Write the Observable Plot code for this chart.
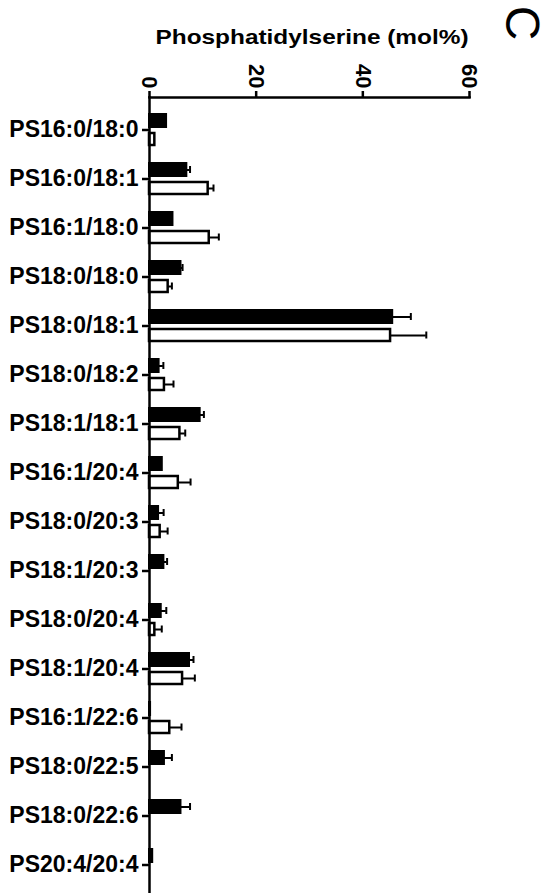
<!DOCTYPE html>
<html><head><meta charset="utf-8">
<script src="https://cdn.jsdelivr.net/npm/d3@7"></script>
<script src="https://cdn.jsdelivr.net/npm/@observablehq/plot@0.6"></script>
<style>body{margin:0;background:#fff}</style>
</head><body><div id="chart"></div>
<script>
const categories = ["PS16:0/18:0","PS16:0/18:1","PS16:1/18:0","PS18:0/18:0","PS18:0/18:1","PS18:0/18:2","PS18:1/18:1","PS16:1/20:4","PS18:0/20:3","PS18:1/20:3","PS18:0/20:4","PS18:1/20:4","PS16:1/22:6","PS18:0/22:5","PS18:0/22:6","PS20:4/20:4"];
const filledValues = [3.2, 7.0, 4.4, 5.9, 45.6, 1.8, 9.5, 2.4, 1.7, 2.7, 2.2, 7.5, 0.2, 2.8, 5.9, 0.6];
const filledErrors = [0, 0.6, 0, 0.3, 3.4, 0.8, 0.7, 0, 0.95, 0.6, 0.95, 0.75, 0, 1.4, 1.7, 0];
const openValues = [1.0, 11.0, 11.2, 3.5, 45.2, 2.8, 5.7, 5.4, 2.0, null, 1.0, 6.2, 3.8, null, null, null];
const openErrors = [0, 1.0, 1.8, 0.7, 6.7, 1.7, 1.0, 2.3, 1.4, 0, 1.3, 2.3, 2.2, 0, 0, 0];
const xTicks = [0, 20, 40, 60];
const title = "Phosphatidylserine (mol%)";
const panelLabel = "C";

const filled = categories.map((c, i) => ({cat: c, v: filledValues[i], e: filledErrors[i]})).filter(d => d.v != null);
const open = categories.map((c, i) => ({cat: c, v: openValues[i], e: openErrors[i]})).filter(d => d.v != null);
const filledErr = filled.filter(d => d.e > 0);
const openErr = open.filter(d => d.e > 0);

const font = "'Liberation Sans', Arial, Helvetica, sans-serif";
const plot = Plot.plot({
  width: 555, height: 893,
  marginTop: 97, marginLeft: 149, marginRight: 86, marginBottom: 0,
  style: {fontFamily: font, fontWeight: "bold", fontSize: "22px", color: "#000", background: "#fff"},
  x: {domain: [0, 60], axis: null},
  y: {domain: categories, padding: 0, range: [99, 895], axis: null},
  marks: [
    Plot.barX(filled, {y: "cat", x: "v", fill: "#000", stroke: "#000", strokeWidth: 2, insetTop: 9, insetBottom: 27}),
    Plot.barX(open, {y: "cat", x: "v", fill: "#fff", stroke: "#000", strokeWidth: 2.5, insetTop: 28, insetBottom: 9}),
    Plot.ruleY(filledErr, {y: "cat", x1: "v", x2: d => d.v + d.e, stroke: "#000", strokeWidth: 2, dy: -9}),
    Plot.tickX(filledErr, {y: "cat", x: d => d.v + d.e, stroke: "#000", strokeWidth: 2, insetTop: 12, insetBottom: 30}),
    Plot.ruleY(openErr, {y: "cat", x1: "v", x2: d => d.v + d.e, stroke: "#000", strokeWidth: 2, dy: 9.5}),
    Plot.tickX(openErr, {y: "cat", x: d => d.v + d.e, stroke: "#000", strokeWidth: 2, insetTop: 30.5, insetBottom: 11.5}),
    Plot.frame({anchor: "top", stroke: "#000", strokeWidth: 2.5}),
    Plot.frame({anchor: "left", stroke: "#000", strokeWidth: 2.5}),
    Plot.axisX(xTicks, {anchor: "top", tickSize: 7, tickPadding: 2, tickRotate: 90, label: null, strokeWidth: 2.5, fontSize: 22, fontWeight: "bold"}),
    Plot.axisY({anchor: "left", tickSize: 7, tickPadding: 4, label: null, strokeWidth: 2.5, fontSize: 23, fontWeight: "bold"}),
    Plot.text([title], {frameAnchor: "top", dx: 2.5, dy: -68, fontSize: 21, fontWeight: "bold", fill: "#000"}),
    Plot.text([panelLabel], {frameAnchor: "top-right", dx: 71, dy: -57, rotate: 90, fontSize: 48, fontWeight: "normal", fill: "#000"})
  ]
});
d3.select(plot).selectAll("text")
  .filter(function() { return this.textContent === title; })
  .attr("textLength", 313)
  .attr("lengthAdjust", "spacingAndGlyphs");
document.getElementById("chart").appendChild(plot);
</script>
</body></html>
